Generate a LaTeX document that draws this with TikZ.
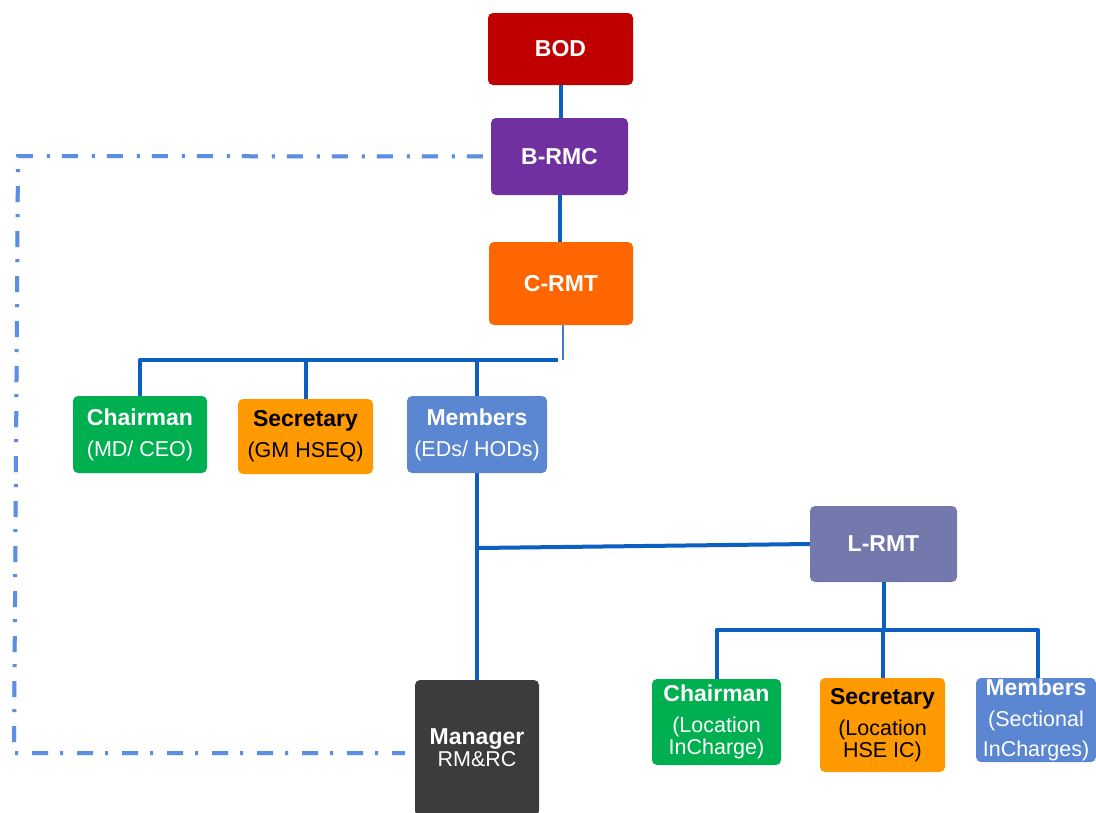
\documentclass[tikz,border=0pt]{standalone}
\usepackage{fontspec}
\setmainfont{Liberation Sans}
\begin{document}
\definecolor{bodred}{HTML}{C00000}
\definecolor{brmcpurple}{HTML}{7030A0}
\definecolor{crmtorange}{HTML}{FF6600}
\definecolor{chairgreen}{HTML}{00B050}
\definecolor{secorange}{HTML}{FF9900}
\definecolor{memblue}{HTML}{5A86D2}
\definecolor{lrmtviolet}{HTML}{7479AD}
\definecolor{mgrgray}{HTML}{3C3C3C}
\definecolor{linkblue}{HTML}{0B5FC1}
\definecolor{dashblue}{HTML}{5B8FE3}
\newcommand{\ttl}[1]{{\fontsize{23}{22}\selectfont\bfseries #1}}
\begin{tikzpicture}[x=1pt,y=-1pt,
  orgbox/.style={rectangle, rounded corners=5pt, inner sep=0pt, text=white,
    align=center, font=\fontsize{21.5}{22}\selectfont},
  headbox/.style={orgbox, font=\fontsize{23}{24}\selectfont\bfseries},
  conn/.style={draw=linkblue, line width=4pt, line join=round},
  thinconn/.style={draw=linkblue!80, line width=1.5pt},
  ddot/.style={draw=dashblue, line width=4pt,
    dash pattern=on 16pt off 12pt on 3pt off 14pt},
  ddshadow/.style={draw=gray, opacity=0.3, line width=4pt,
    dash pattern=on 16pt off 12pt on 3pt off 14pt}]
\useasboundingbox (0,0) rectangle (1096,812);
\begin{scope}
\clip (0,0) rectangle (1096,812);

% top of the hierarchy
\node[headbox, fill=bodred, minimum width=145pt, minimum height=72pt] (bod) at (560.5,49) {BOD};
\node[headbox, fill=brmcpurple, minimum width=137pt, minimum height=77pt] (brmc) at (559.5,156.5) {B-RMC};
\node[headbox, fill=crmtorange, minimum width=144pt, minimum height=83pt] (crmt) at (561,283.5) {C-RMT};

% corporate team
\node[orgbox, fill=chairgreen, minimum width=134pt, minimum height=77pt] (chair1) at (140,434.5)
  {\ttl{Chairman}\\[9pt](MD/ CEO)};
\node[orgbox, fill=secorange, text=black, minimum width=135pt, minimum height=75pt] (sec1) at (305.5,436.5)
  {\ttl{Secretary}\\[9pt](GM HSEQ)};
\node[orgbox, fill=memblue, minimum width=140pt, minimum height=77pt] (mem1) at (477,434.5)
  {\ttl{Members}\\[9pt](EDs/ HODs)};

% location team
\node[headbox, fill=lrmtviolet, minimum width=147pt, minimum height=76pt] (lrmt) at (883.5,544) {L-RMT};
\node[orgbox, fill=mgrgray, minimum width=124pt, minimum height=136pt] (mgr) at (477,748)
  {\ttl{Manager}\\RM\&RC};
\node[orgbox, fill=chairgreen, minimum width=129pt, minimum height=86pt] (chair2) at (716.5,722)
  {\ttl{Chairman}\\[9pt](Location\\InCharge)};
\node[orgbox, fill=secorange, text=black, minimum width=125pt, minimum height=94pt] (sec2) at (882.5,725)
  {\ttl{Secretary}\\[9pt](Location\\HSE IC)};
\node[orgbox, fill=memblue, minimum width=120pt, minimum height=84pt] (mem2) at (1036,720)
  {\ttl{Members}\\[9pt](Sectional\\[8pt]InCharges)};

% solid reporting lines
\draw[conn] (bod.south) -- (bod.south |- brmc.north);
\draw[conn] (brmc.south) -- (brmc.south |- crmt.north);
\coordinate (busA) at (558,360);
\draw[thinconn] ([xshift=2pt]crmt.south) -- ([xshift=2pt]crmt.south |- busA);
\draw[conn] (busA) -| (chair1.north);
\draw[conn] (sec1.north) -- (sec1.north |- busA);
\draw[conn] (mem1.north) -- (mem1.north |- busA);
\draw[conn] (mem1.south) -- (mem1.south |- mgr.north);
\coordinate (busL) at (478,548);
\draw[conn] (lrmt.west) -- (busL);
\coordinate (busB) at (883.5,630);
\draw[conn] (lrmt.south) -- (busB);
\draw[conn] (chair2.north) |- (busB) -| ([xshift=2pt]mem2.north);
\draw[conn] (sec2.north) -- (sec2.north |- busB);

% dash-dot link from B-RMC to the manager
\coordinate (dl1) at (18,156);
\coordinate (dl2) at (14,753);
\draw[ddshadow, yshift=-3pt, xshift=1pt, shorten <=8pt, shorten >=10pt]
  (brmc.west) -- (dl1) -- (dl2) -- (mgr.west |- dl2);
\draw[ddot, shorten <=8pt, shorten >=10pt]
  (brmc.west) -- (dl1) -- (dl2) -- (mgr.west |- dl2);
\end{scope}
\end{tikzpicture}
\end{document}
